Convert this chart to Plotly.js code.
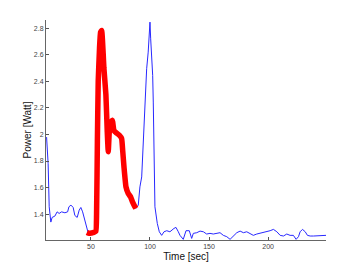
<!DOCTYPE html>
<html>
<head>
<meta charset="utf-8">
<script src="https://cdn.plot.ly/plotly-3.0.1.min.js"></script>
<style>html,body{margin:0;padding:0;background:#fff}#chart{width:360px;height:271px}</style>
</head>
<body>
<div id="chart"></div>
<script>
// Blue series: full power trace
const blueTime = [12.5,13.8,14.7,15.3,16.1,17.2,19.5,21.4,23.1,25.2,28,30.3,31.4,33.1,35,36.4,38.4,40.1,41.5,43,44.9,46.4,
  47.5,50,53,54.8,56.2,58.2,59.1,60.4,61,62.7,63.8,64.7,66.1,68.1,69.5,71.8,74,76,76.9,78,79.7,81.6,83.6,85.3,87.3,88.1,
  90.1,91.5,93,94.3,95.8,97.2,98.5,99.2,100,100.6,102.3,102.8,103.6,104.2,106.2,107.9,109.9,111.9,114.2,116.9,120.3,122,124,125.4,
  128.2,130.5,133.3,135.3,136.7,139.6,142.4,145.2,148,150.8,153.6,156.5,159.3,162.1,165,167.8,170.6,173.5,176.3,179.1,181.9,
  184.7,187.5,190.4,193.2,196,198.9,201.7,204.5,207.4,210.2,213,215.8,218.6,221.4,223.7,225.7,227.1,229.1,231.4,233.3,235.6,
  238.4,241.3,244.1,246.9,249];
const bluePower = [1.98,1.78,1.455,1.37,1.34,1.375,1.385,1.417,1.405,1.417,1.41,1.417,1.455,1.468,1.45,1.39,1.375,1.43,1.45,1.417,1.355,1.305,
  1.265,1.258,1.265,1.4,2.4,2.72,2.783,2.61,2.48,2.3,2.03,1.87,2.08,2.107,2.03,2.01,1.995,1.97,1.88,1.756,1.605,1.555,1.53,1.49,1.455,1.443,
  1.468,1.605,1.68,1.92,2.24,2.495,2.62,2.71,2.846,2.72,2.445,2.244,1.92,1.455,1.33,1.267,1.24,1.267,1.275,1.267,1.292,1.30,1.267,1.24,
  1.21,1.275,1.275,1.217,1.255,1.26,1.272,1.267,1.25,1.255,1.25,1.255,1.26,1.24,1.23,1.21,1.235,1.26,1.272,1.26,1.267,
  1.255,1.24,1.25,1.255,1.26,1.267,1.275,1.285,1.267,1.24,1.235,1.25,1.24,1.24,1.21,1.23,1.267,1.285,1.267,1.24,1.235,
  1.235,1.235,1.24,1.24,1.24];
// Red series: highlighted segment
const redTime = [46.6,48.5,50.5,52.5,54.2,54.8,55.5,56.2,57.3,58.2,59.1,60.4,61,62.7,63.8,64.7,66.1,68.1,69.5,71.8,74,76,76.9,78,79.7,81.6,83.6,85.3,87.3,88.1];
const redPower = [1.262,1.255,1.258,1.262,1.27,1.4,1.95,2.4,2.65,2.77,2.783,2.61,2.5,2.3,2.03,1.87,2.08,2.107,2.03,2.01,1.995,1.97,1.88,1.756,1.605,1.555,1.53,1.49,1.455,1.443];
const xTicks = [50,100,150,200];
const yTicks = [1.4,1.6,1.8,2,2.2,2.4,2.6,2.8];

const data = [
  {x: blueTime, y: bluePower, type:'scatter', mode:'lines', line:{color:'rgb(40,40,255)', width:1}, hoverinfo:'none'},
  {x: redTime, y: redPower, type:'scatter', mode:'lines', line:{color:'rgb(255,0,0)', width:5.5, shape:'spline', smoothing:0.4}, hoverinfo:'none'}
];
const axFont = {family:'Liberation Sans, Arial, sans-serif', size:7, color:'#444'};
const layout = {
  width:360, height:271,
  margin:{l:46, r:34, t:20, b:31},
  paper_bgcolor:'#fff', plot_bgcolor:'#fff',
  showlegend:false,
  xaxis:{range:[12,249], tickvals:xTicks, ticktext:xTicks.map(String), ticks:'inside', ticklen:3, tickcolor:'#555',
    showline:true, linecolor:'#666', linewidth:1, showgrid:false, zeroline:false, tickfont:axFont,
    title:{text:'Time [sec]', font:{family:'Liberation Sans, Arial, sans-serif', size:10, color:'#111'}, standoff:3}},
  yaxis:{range:[1.205,2.862], tickvals:yTicks, ticktext:['1.4','1.6','1.8','2','2.2','2.4','2.6','2.8'], ticks:'inside', ticklen:3, tickcolor:'#555',
    showline:true, linecolor:'#666', linewidth:1, showgrid:false, zeroline:false, tickfont:axFont,
    title:{text:'Power [Watt]', font:{family:'Liberation Sans, Arial, sans-serif', size:10, color:'#111'}, standoff:0}}
};
Plotly.newPlot('chart', data, layout, {staticPlot:true, displayModeBar:false});
</script>
</body>
</html>
